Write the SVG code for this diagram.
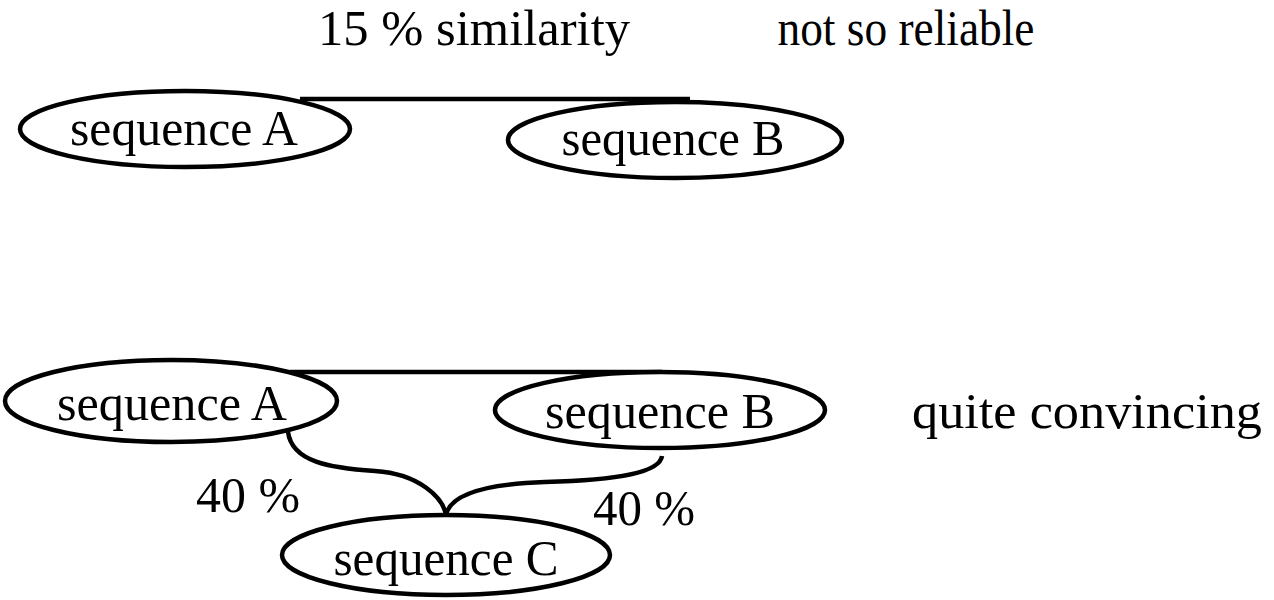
<svg xmlns="http://www.w3.org/2000/svg" width="1274" height="600" viewBox="0 0 1274 600">
<style>
.n{fill:#fff;stroke:#000;stroke-width:4.5}
.c{fill:none;stroke:#000;stroke-width:4.5}
text{font-family:"Liberation Serif","DejaVu Serif",serif;font-size:50px;fill:#000;text-anchor:middle}
</style>
<rect width="1274" height="600" fill="#fff"/>
<g id="connectors">
<line class="c" x1="300" y1="99" x2="690" y2="99"/>
<line class="c" x1="290" y1="372" x2="662" y2="372"/>
<path class="c" d="M288 432 C292 462 330 468 375 471 C420 474 443 498 446 515"/>
<path class="c" d="M446 515 C450 495 482 484 545 482 C620 480 660 472 662 456"/>
</g>
<g id="nodeA1"><ellipse class="n" cx="185" cy="129" rx="165" ry="38"/><text x="184" y="145" textLength="228" lengthAdjust="spacingAndGlyphs">sequence A</text></g>
<g id="nodeB1"><ellipse class="n" cx="675" cy="140" rx="167" ry="38"/><text x="673" y="155" textLength="223" lengthAdjust="spacingAndGlyphs">sequence B</text></g>
<g id="nodeA2"><ellipse class="n" cx="171" cy="401" rx="166" ry="41"/><text x="172" y="420" textLength="230" lengthAdjust="spacingAndGlyphs">sequence A</text></g>
<g id="nodeB2"><ellipse class="n" cx="660" cy="410" rx="165" ry="38"/><text x="660" y="428" textLength="230" lengthAdjust="spacingAndGlyphs">sequence B</text></g>
<g id="nodeC"><ellipse class="n" cx="446" cy="555" rx="164" ry="40"/><text x="446" y="575" textLength="225" lengthAdjust="spacingAndGlyphs">sequence C</text></g>
<g id="labels">
<text x="474" y="45" textLength="312" lengthAdjust="spacingAndGlyphs">15 % similarity</text>
<text x="906" y="45" textLength="257" lengthAdjust="spacingAndGlyphs">not so reliable</text>
<text x="1087" y="428" textLength="350" lengthAdjust="spacingAndGlyphs">quite convincing</text>
<text x="248" y="512" textLength="104" lengthAdjust="spacingAndGlyphs">40 %</text>
<text x="644" y="525" textLength="102" lengthAdjust="spacingAndGlyphs">40 %</text>
</g>
</svg>
